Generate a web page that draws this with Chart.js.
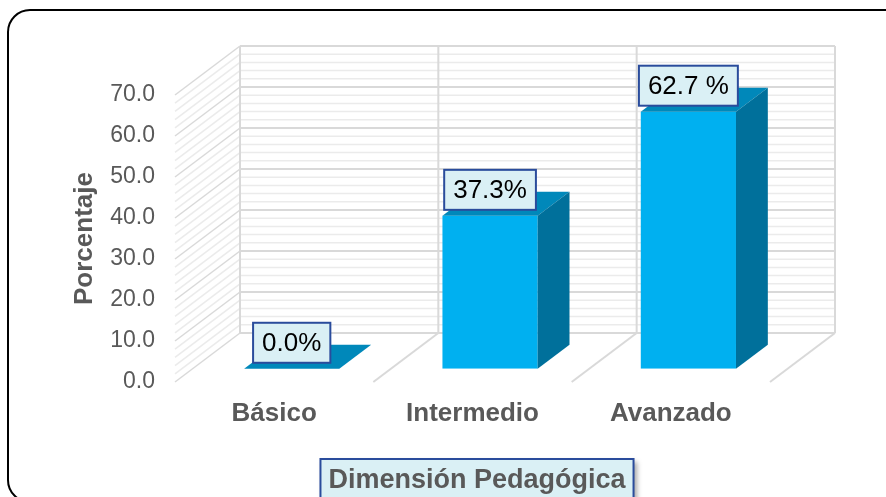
<!DOCTYPE html>
<html lang="es">
<head>
<meta charset="utf-8">
<title>Dimensión Pedagógica</title>
<script src="https://cdn.jsdelivr.net/npm/chart.js@4.4.1/dist/chart.umd.min.js"></script>
<style>
  html, body { margin: 0; padding: 0; background: #fff; }
  canvas { display: block; }
</style>
</head>
<body>
<canvas id="grafico" width="886" height="497"></canvas>
<script>
// datos
const categorias = ['Básico', 'Intermedio', 'Avanzado'];
const porcentajes = [0.0, 37.3, 62.7];
const etiquetas = ['0.0%', '37.3%', '62.7 %'];
const marcasY = [0, 10, 20, 30, 40, 50, 60, 70];
const pasoMenor = 2;

const tituloY = 'Porcentaje';
const tituloX = 'Dimensión Pedagógica';

// efecto 3D: vector de profundidad y posición de las barras dentro de ella
const PROF_X = 65, PROF_Y = -49;
const BARRA_INI = 0.27, BARRA_FIN = 0.76;

const FUENTE = "'Liberation Sans', Arial, sans-serif";
const GRIS = '#595959';

function linea(ctx, x1, y1, x2, y2, color, ancho) {
    ctx.beginPath();
    ctx.moveTo(x1, y1);
    ctx.lineTo(x2, y2);
    ctx.strokeStyle = color;
    ctx.lineWidth = ancho;
    ctx.stroke();
}

function poligono(ctx, pts, color) {
    ctx.beginPath();
    pts.forEach(([px, py], i) => i ? ctx.lineTo(px, py) : ctx.moveTo(px, py));
    ctx.closePath();
    ctx.fillStyle = color;
    ctx.fill();
}

const marco3d = {
    id: 'marco3d',
    beforeDraw(chart) {
        const ctx = chart.ctx;
        ctx.save();
        ctx.fillStyle = '#fff';
        ctx.fillRect(0, 0, chart.width, chart.height);
        ctx.restore();
    },
    beforeDatasetsDraw(chart) {
        const { ctx, chartArea: a, scales: { x, y } } = chart;
        ctx.save();
        const vMax = marcasY[marcasY.length - 1];
        // pared lateral y pared del fondo
        for (let v = marcasY[0]; v <= vMax; v += pasoMenor) {
            const py = y.getPixelForValue(v);
            const mayor = marcasY.includes(v);
            const col = mayor ? '#D9D9D9' : '#EBEBEB';
            linea(ctx, a.left, py, a.left + PROF_X, py + PROF_Y, col, 1.5);
            linea(ctx, a.left + PROF_X, py + PROF_Y, a.right + PROF_X, py + PROF_Y, col, mayor ? 2 : 1.5);
        }
        // límites de categoría: verticales del fondo y líneas del suelo
        const paso = x.getPixelForValue(1) - x.getPixelForValue(0);
        const y0 = y.getPixelForValue(0), yTop = y.getPixelForValue(vMax);
        for (let i = 0; i <= categorias.length; i++) {
            const bx = x.getPixelForValue(0) - paso / 2 + i * paso;
            linea(ctx, bx + PROF_X, y0 + PROF_Y, bx + PROF_X, yTop + PROF_Y, '#D9D9D9', 2);
            if (i > 0) linea(ctx, bx, y0, bx + PROF_X, y0 + PROF_Y, '#D9D9D9', 2);
        }
        ctx.restore();
        // la cara frontal de las barras va un poco hacia dentro
        ctx.save();
        ctx.translate(PROF_X * BARRA_INI, PROF_Y * BARRA_INI);
    },
    afterDatasetsDraw(chart) {
        const ctx = chart.ctx;
        ctx.restore();
        ctx.save();
        const fx = PROF_X * BARRA_INI, fy = PROF_Y * BARRA_INI;
        const dx = PROF_X * (BARRA_FIN - BARRA_INI), dy = PROF_Y * (BARRA_FIN - BARRA_INI);
        const meta = chart.getDatasetMeta(0);
        meta.data.forEach((bar, i) => {
            const { x, y, width, base } = bar.getProps(['x', 'y', 'width', 'base'], true);
            const l = x - width / 2 + fx, r = x + width / 2 + fx, t = y + fy, b = base + fy;
            poligono(ctx, [[l, t], [r, t], [r + dx, t + dy], [l + dx, t + dy]], '#0088BA');
            poligono(ctx, [[r, t], [r + dx, t + dy], [r + dx, b + dy], [r, b]], '#00709B');
        });
        // etiquetas de datos
        ctx.font = '26px ' + FUENTE;
        ctx.textAlign = 'center';
        ctx.textBaseline = 'middle';
        meta.data.forEach((bar, i) => {
            const { x, y } = bar.getProps(['x', 'y'], true);
            const cx = x + fx, t = y + fy;
            const w = ctx.measureText(etiquetas[i]).width + 18, h = 40;
            const bx = cx - w / 2, by = t - 6 - h;
            ctx.fillStyle = '#DAF0F5';
            ctx.fillRect(bx, by, w, h);
            ctx.strokeStyle = '#2A4C9C';
            ctx.lineWidth = 2;
            ctx.strokeRect(bx, by, w, h);
            ctx.fillStyle = '#000';
            ctx.fillText(etiquetas[i], cx, by + h / 2 + 1);
        });
        ctx.restore();
    },
    afterDraw(chart) {
        const ctx = chart.ctx;
        ctx.save();
        // cuadro del título del eje X
        ctx.font = 'bold 27px ' + FUENTE;
        const tw = ctx.measureText(tituloX).width;
        const cx = 477, bw = tw + 16;
        ctx.shadowColor = 'rgba(0,0,0,0.35)';
        ctx.shadowBlur = 5;
        ctx.shadowOffsetX = 3;
        ctx.shadowOffsetY = 3;
        ctx.fillStyle = '#DAF0F5';
        ctx.fillRect(cx - bw / 2, 459, bw, 60);
        ctx.shadowColor = 'transparent';
        ctx.strokeStyle = '#2A4C9C';
        ctx.lineWidth = 2;
        ctx.strokeRect(cx - bw / 2, 459, bw, 60);
        ctx.fillStyle = GRIS;
        ctx.textAlign = 'center';
        ctx.textBaseline = 'middle';
        ctx.fillText(tituloX, cx, 481);
        // borde redondeado exterior
        ctx.beginPath();
        ctx.roundRect(8, 10, 900, 492, 22);
        ctx.strokeStyle = '#000';
        ctx.lineWidth = 2;
        ctx.stroke();
        ctx.restore();
    }
};

new Chart(document.getElementById('grafico'), {
    type: 'bar',
    data: {
        labels: categorias,
        datasets: [{
            data: porcentajes,
            backgroundColor: '#00B0F0',
            borderWidth: 0,
            categoryPercentage: 1,
            barPercentage: 0.48
        }]
    },
    options: {
        responsive: false,
        animation: false,
        layout: { padding: { left: 0, top: 95, right: 116, bottom: 0 } },
        plugins: { legend: { display: false }, tooltip: { enabled: false } },
        scales: {
            x: {
                grid: { display: false, drawTicks: false },
                border: { display: false },
                afterFit: s => { s.height = 115; },
                ticks: { padding: 16, color: GRIS, font: { family: FUENTE, size: 26, weight: 'bold' } }
            },
            y: {
                min: marcasY[0],
                max: marcasY[marcasY.length - 1],
                afterBuildTicks: s => { s.ticks = marcasY.map(v => ({ value: v })); },
                afterFit: s => { s.width = 175; },
                grid: { display: false, drawTicks: false },
                border: { display: false },
                ticks: { padding: 20, color: GRIS, font: { family: FUENTE, size: 23 }, callback: v => v.toFixed(1) },
                title: {
                    display: true, text: tituloY, color: GRIS,
                    font: { family: FUENTE, size: 26, weight: 'bold' },
                    padding: { top: 69, bottom: 0 }
                }
            }
        }
    },
    plugins: [marco3d]
});
</script>
</body>
</html>
